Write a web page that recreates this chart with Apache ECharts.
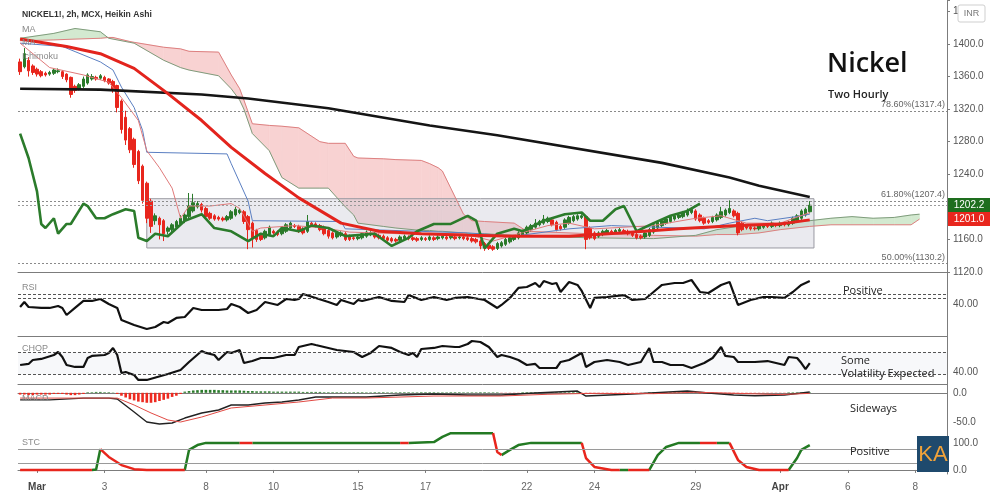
<!DOCTYPE html>
<html><head><meta charset="utf-8">
<script src="https://cdn.jsdelivr.net/npm/echarts/dist/echarts.min.js"></script>
<style>html,body{margin:0;padding:0;background:#fff}#c{width:992px;height:494px}</style>
</head><body><div id="c"></div>
<script>
const FONT = "'Liberation Sans', Arial, sans-serif";
const OS = "'Open Sans', 'Liberation Sans', sans-serif";
const tickIdx = [4,20,44,60,80,96,120,136,160,180,196,212];
const tickText = ['Mar','3','8','10','15','17','22','24','29','Apr','6','8'];
const barCount = 220;
// Heikin Ashi candles [open, close, low, high]
const candles = [
[1378,1366,1362,1382],[1372,1388,1370,1395],[1380,1367,1360,1384],[1373,1365,1362,1375],[1369,1363,1360,1371],
[1366,1361,1359,1368],[1364,1362,1360,1366],[1363,1365,1361,1367],[1364,1368,1362,1370],[1366,1367,1364,1370],
[1366,1360,1357,1368],[1363,1356,1353,1364],[1359,1338,1334,1360],[1348,1343,1340,1350],[1345,1350,1343,1352],
[1348,1357,1346,1360],[1352,1362,1350,1364],[1357,1360,1355,1363],[1359,1357,1355,1361],[1358,1361,1356,1363],
[1359,1355,1353,1361],[1357,1352,1350,1358],[1354,1344,1340,1356],[1349,1322,1316,1350],[1330,1295,1290,1332],
[1310,1282,1276,1318],[1296,1270,1266,1298],[1283,1252,1248,1285],[1268,1232,1228,1270],[1250,1208,1204,1252],
[1229,1186,1180,1231],[1207,1176,1168,1210],[1183,1189,1178,1192],[1186,1178,1160,1188],[1183,1167,1158,1185],
[1170,1174,1166,1176],[1172,1178,1169,1180],[1175,1182,1173,1184],[1179,1186,1177,1190],[1183,1190,1180,1192],
[1188,1201,1186,1217],[1195,1205,1193,1216],[1200,1204,1198,1207],[1203,1196,1193,1205],[1198,1188,1186,1200],
[1192,1186,1184,1194],[1189,1185,1183,1191],[1187,1185,1183,1189],[1186,1184,1182,1188],[1184,1188,1182,1190],
[1186,1194,1184,1196],[1190,1197,1188,1200],[1193,1196,1191,1198],[1194,1182,1179,1196],[1188,1172,1148,1190],
[1180,1162,1150,1182],[1171,1160,1157,1173],[1165,1160,1158,1167],[1162,1170,1160,1172],[1166,1175,1164,1177],
[1170,1168,1166,1172],[1169,1166,1164,1171],[1167,1174,1165,1176],[1170,1178,1168,1180],[1174,1180,1172,1182],
[1177,1176,1174,1179],[1176,1170,1168,1178],[1173,1168,1166,1175],[1170,1182,1168,1190],[1180,1178,1176,1182],
[1179,1176,1174,1181],[1177,1172,1170,1179],[1175,1167,1165,1177],[1171,1164,1161,1173],[1168,1162,1160,1170],
[1163,1168,1161,1170],[1165,1168,1163,1170],[1167,1160,1158,1169],[1164,1160,1158,1166],[1162,1161,1159,1164],
[1161,1163,1159,1165],[1162,1167,1160,1169],[1164,1169,1162,1171],[1166,1168,1164,1170],[1167,1163,1161,1169],
[1165,1162,1160,1167],[1164,1161,1159,1166],[1162,1159,1157,1164],[1161,1158,1156,1163],[1160,1158,1156,1162],
[1159,1163,1157,1165],[1161,1164,1159,1166],[1163,1161,1159,1165],[1162,1160,1158,1164],[1161,1159,1157,1163],
[1160,1162,1158,1164],[1161,1160,1158,1163],[1160,1163,1158,1165],[1162,1160,1158,1164],[1161,1163,1159,1165],
[1162,1164,1160,1166],[1163,1161,1159,1165],[1162,1164,1160,1166],[1163,1161,1159,1165],[1162,1163,1160,1165],
[1163,1161,1159,1165],[1162,1160,1158,1164],[1161,1158,1156,1163],[1160,1157,1155,1162],[1158,1152,1148,1160],
[1155,1150,1146,1157],[1153,1149,1147,1155],[1151,1148,1146,1153],[1149,1155,1147,1157],[1152,1156,1150,1158],
[1154,1160,1152,1162],[1157,1162,1155,1164],[1160,1163,1158,1165],[1162,1168,1160,1170],[1165,1170,1163,1172],
[1168,1175,1166,1177],[1172,1177,1170,1179],[1175,1180,1173,1185],[1178,1182,1176,1184],[1180,1185,1178,1190],
[1182,1186,1180,1188],[1184,1178,1176,1186],[1181,1172,1170,1183],[1176,1173,1171,1178],[1175,1184,1173,1186],
[1180,1187,1178,1189],[1183,1188,1181,1190],[1185,1189,1183,1191],[1187,1189,1185,1191],[1188,1160,1148,1190],
[1174,1162,1160,1176],[1168,1161,1159,1170],[1164,1168,1162,1170],[1166,1170,1164,1172],[1168,1171,1166,1173],
[1170,1168,1166,1172],[1169,1171,1167,1173],[1170,1172,1168,1174],[1171,1169,1167,1173],[1170,1167,1165,1172],
[1168,1165,1163,1170],[1166,1162,1160,1168],[1164,1162,1160,1166],[1163,1168,1161,1170],[1165,1172,1163,1174],
[1169,1178,1167,1180],[1174,1181,1172,1183],[1177,1183,1175,1185],[1180,1185,1178,1187],[1182,1188,1180,1190],
[1185,1189,1183,1191],[1187,1190,1185,1192],[1188,1193,1186,1195],[1190,1196,1188,1198],[1193,1197,1191,1199],
[1195,1185,1183,1197],[1190,1183,1181,1192],[1186,1180,1178,1188],[1183,1181,1179,1185],[1182,1187,1180,1189],
[1184,1190,1182,1192],[1187,1194,1185,1200],[1190,1196,1188,1198],[1193,1198,1191,1208],[1195,1189,1187,1197],
[1192,1168,1165,1194],[1180,1172,1170,1182],[1176,1174,1172,1178],[1175,1173,1171,1177],[1174,1173,1171,1176],
[1173,1177,1171,1179],[1175,1178,1173,1180],[1177,1176,1174,1179],[1176,1180,1174,1182],[1178,1177,1175,1180],
[1177,1180,1175,1182],[1179,1178,1176,1181],[1178,1181,1176,1183],[1180,1186,1178,1188],[1183,1189,1181,1191],
[1186,1195,1184,1197],[1190,1197,1188,1199],[1194,1202,1192,1207]
];
const redMA = [[0,1406],[11,1397],[19,1388],[27,1370],[35,1339],[43,1306],[50,1273],[58,1241],[66,1211],[76,1180],[85,1170],[95,1167],[106,1165],[118,1164],[130,1164],[142,1168],[156,1173],[170,1177],[180,1179],[187,1184]];
const blackMA = [[0,1345],[19,1344],[43,1338],[54,1333],[73,1321],[97,1300],[113,1288],[152,1254],[168,1236],[175,1226],[187,1212]];
const kijun = [[0,1401],[10,1397],[19,1378],[22,1368],[24,1347],[27,1322],[29,1294],[30,1267],[49,1265],[50,1253],[54,1207],[55,1183],[76,1182],[77,1173],[106,1168],[117,1164],[130,1173],[140,1177],[162,1173],[168,1180],[174,1186],[177,1183],[185,1189],[187,1191]];
const tenkan = [[0,1401],[7,1371],[15,1362],[21,1353],[24,1334],[28,1306],[30,1269],[33,1248],[36,1223],[38,1186],[40,1201],[45,1201],[50,1204],[52,1198],[55,1170],[57,1174],[65,1177],[72,1174],[78,1169],[90,1167],[105,1167],[112,1158],[118,1167],[125,1177],[130,1180],[136,1173],[150,1177],[160,1186],[166,1189],[172,1180],[180,1180],[187,1193]];
const lagging = [[0,1290],[2,1260],[4,1219],[5,1179],[6,1174],[8,1186],[9,1167],[11,1179],[12,1179],[15,1204],[16,1201],[18,1186],[20,1186],[22,1191],[25,1197],[27,1195],[28,1162],[30,1158],[32,1167],[35,1164],[39,1183],[43,1191],[46,1174],[50,1170],[54,1158],[57,1167],[60,1164],[62,1174],[66,1170],[69,1177],[73,1174],[77,1164],[84,1167],[88,1152],[92,1162],[94,1170],[98,1179],[102,1179],[106,1189],[108,1183],[110,1149],[113,1167],[117,1173],[119,1170],[124,1183],[129,1191],[133,1193],[135,1183],[138,1183],[141,1197],[143,1201],[146,1170],[150,1180],[154,1189],[158,1195],[161,1204]];
const cloudIdx = [0,8,13,19,21,22,26,27,34,38,40,47,50,52,53,55,59,62,66,71,73,77,79,80,86,89,95,97,99,100,105,107,110,117,120,135,150,160,165,170,175,180,187,192,197,202,207,211,213];
const spanA = [1407,1413,1419,1415,1407,1406,1402,1401,1380,1371,1368,1361,1345,1331,1320,1290,1269,1236,1223,1223,1223,1200,1190,1180,1176,1174,1171,1171,1170,1170,1168,1167,1167,1165,1164,1162,1161,1165,1172,1176,1177,1180,1183,1186,1188,1186,1187,1190,1191];
const spanB = [1404,1405,1406,1407,1408,1408,1403,1402,1396,1394,1391,1390,1362,1345,1331,1302,1300,1299,1297,1280,1278,1278,1262,1260,1259,1258,1257,1253,1248,1244,1191,1183,1182,1180,1170,1167,1165,1164,1166,1166,1168,1172,1176,1178,1178,1178,1178,1178,1185];
const fibLevels = [1317.4, 1207.4, 1130.2];
const fibText = ['78.60%(1317.4)', '61.80%(1207.4)', '50.00%(1130.2)'];
const rangeBox = {from: 30, to: 188, low: 1149.5, high: 1210};
const lastPrice = 1202.2, lastMA = 1201.0;
const rsi = [[0,36.8],[1,43.2],[2,36.8],[5,35.6],[7,35.6],[9,38.1],[10,35.6],[11,26.7],[13,35.6],[15,44.5],[17,44.5],[19,47],[21,40.6],[23,35.6],[24,20.3],[27,14],[30,8.9],[32,11.4],[34,17.8],[35,16.5],[37,22.9],[39,24.1],[41,35.6],[43,33],[47,33],[49,34.3],[50,40.6],[52,36.8],[54,29.2],[56,33],[58,43.2],[61,39.4],[63,47],[65,45.7],[66,47],[67,53.3],[70,48.3],[73,43.2],[75,39.4],[76,45.7],[79,40.6],[80,45.7],[81,44.5],[85,49.5],[88,44.5],[91,43.2],[92,52],[95,45.7],[98,49.5],[101,45.7],[103,48.3],[106,49.5],[110,45.7],[113,35.6],[114,39.4],[116,48.3],[118,61],[120,62.2],[122,67.3],[123,62.2],[124,69.8],[126,66],[127,67.3],[128,55.9],[130,68.6],[132,64.8],[133,57.2],[135,35.6],[136,48.3],[139,49.5],[143,52],[145,45.7],[148,47],[150,55.9],[152,64.8],[155,67.3],[157,67.3],[159,71.1],[161,55.9],[163,54.6],[166,64.8],[168,68.6],[170,39.4],[173,45.7],[176,49.5],[178,49.5],[181,48.3],[183,55.9],[185,64.8],[187,69.8]];
const rsiBands = [53, 48];
const chop = [[0,48.2],[2,49.3],[3,53.5],[5,54.6],[8,58.8],[9,62],[10,56.7],[11,48.2],[13,46.1],[15,46.1],[16,55.6],[17,57.8],[20,58.8],[21,61],[22,66.3],[23,58.8],[24,39.7],[25,40.8],[27,37.6],[28,32.3],[30,32.3],[35,38.6],[38,42.9],[40,51.4],[43,63.1],[44,61],[46,58.8],[47,53.5],[49,62],[50,61],[52,64.1],[53,50.3],[55,52.4],[57,55.6],[60,55.6],[63,58.8],[65,58.8],[66,67.3],[69,70.5],[70,69.4],[75,64.1],[79,62],[81,56.7],[83,61],[85,68.4],[88,66.3],[90,62],[92,58.8],[93,61],[94,56.7],[95,65.2],[98,66.3],[100,68.4],[103,67.3],[104,67.3],[106,70.5],[107,73.7],[109,72.6],[111,67.3],[113,56.7],[114,58.8],[116,56.7],[118,53.5],[120,48.2],[122,49.3],[123,45],[126,45],[127,45],[128,51.4],[130,53.5],[133,61],[134,46.1],[136,51.4],[139,53.5],[142,51.4],[144,48.2],[147,51.4],[149,66.3],[150,51.4],[152,51.4],[154,48.2],[157,48.2],[159,45],[162,50.3],[164,55.6],[166,67.3],[167,57.8],[169,56.7],[170,51.4],[174,51.4],[177,52.4],[179,50.3],[181,48.2],[182,56.7],[184,55.6],[185,50.3],[186,43.9],[187,50.3]];
const chopBands = [61.8, 38.2];
const macd = [[0,-12],[7,-12],[15,-9],[21,-9],[23,-10.6],[27,-32.7],[30,-49.8],[33,-53.2],[36,-51.5],[39,-43],[43,-34.4],[47,-29.3],[50,-20.8],[54,-20.8],[58,-17.4],[62,-15.7],[66,-12.3],[70,-7.2],[82,-7.2],[90,-3.8],[98,-2.1],[106,-3.8],[114,-3.8],[122,-0.4],[132,3],[134,-5.5],[145,-2],[158,3],[163,-0.4],[169,-3.8],[174,-5],[181,-3.8],[187,1.3]];
const signal = [[0,-9],[23,-9],[27,-20.8],[31,-34.4],[35,-46.4],[38,-49.8],[43,-41.3],[50,-25.9],[58,-20.8],[66,-15.7],[74,-8.9],[82,-8.9],[98,-5.5],[114,-5.5],[125,-2.5],[135,-1],[150,-1.5],[160,1],[170,-1],[180,-3],[187,-1]];
const hist = [-3,-3,-4,-4,-3,-3,-3,-3,-2,-2,-2,-3,-4,-4,-3,-2,
1,1,1.5,1.5,1,1,0.5,
-2,-5,-8,-11,-13,-15,-16,-17,-17,-16,-14,-12,-10,-7,-5,-2,
2,3,4,4.5,5,5,5,5,4.5,4.5,4,4,4,4,3.5,
3,3,2.5,2.5,2.5,2.5,2,2,2,2,2,2,2,1.5,1.5,1.5,1.5,1.5,1,1,1,
1,1,0.8,0.8,1,1,1,0.8,0.8,1,1,1,0.8,0.8,0.8,1,1,1,0.8,0.8,1,1,1,1,0.8,0.8,0.8,1,1,1,0.8,0.8,0.8,0.8,1,1,0.8,0.8,0.8,
-0.5,-0.5,-0.5,-0.5,-0.5,
1,1,1,1,1,1,1,1,1,1,1,1,1,1,
-1.5,-2,-1.5,-1,
-0.5,-0.5,-0.5,-0.5,-0.5,-0.5,-0.5,-0.5,-0.5,-0.5,-0.5,-0.5,
1,1,1,1,1,1,1,1,1,1,1,1,
-1,-1,-1,-1,-1,-1,-1,-1,-1,-1,-1,-1,
-0.5,-0.5,-0.5,-0.5,-0.5,-0.5,-0.5,-0.5,-0.5,
0.8,0.8,0.8,0.8,0.8,0.8];
const stcGreen = [[[17,0],[18,2],[19,77]],[[39,0],[40,74],[42,92],[44,100],[52,100]],[[55,100],[90,100]],[[92,100],[98,103],[100,122],[102,136],[112,136]],[[114,55],[116,74],[118,92],[121,100],[133,100]],[[142,0],[144,0]],[[149,0],[151,55],[153,85],[156,100],[161,100]],[[165,100],[168,100]],[[182,0],[184,44],[185,74],[187,92]]];
const stcRed = [[[0,0],[17,0]],[[19,77],[21,48],[24,18],[27,3],[30,0],[39,0]],[[52,100],[55,100]],[[90,100],[92,100]],[[112,136],[113,66],[114,55]],[[133,100],[134,44],[136,11],[140,0],[142,0]],[[144,0],[149,0]],[[161,100],[165,100]],[[168,100],[170,37],[172,11],[175,0],[182,0]]];
const stcBands = [75, 25];

const UP = '#2a7a2a', DOWN = '#e8261d';
const cats = Array.from({length: barCount}, (_, i) => String(i));
const tickFn = (i) => tickIdx.indexOf(i) >= 0;
const labelFn = (v) => { const k = tickIdx.indexOf(Number(v)); if (k < 0) return ''; const t = tickText[k]; return isNaN(Number(t)) ? '{b|' + t + '}' : t; };
function flat(segs) { const out = []; segs.forEach((s) => { s.forEach(p => out.push(p)); out.push([s[s.length-1][0], '-']); }); return out; }

const el = document.getElementById('c');
const chart = echarts.init(el, null, {renderer: 'canvas'});
const GL = 18, GR = 45;
const grids = [
  {left: GL, right: GR, top: 0, height: 272},
  {left: GL, right: GR, top: 273, height: 63},
  {left: GL, right: GR, top: 336, height: 48},
  {left: GL, right: GR, top: 384, height: 44},
  {left: GL, right: GR, top: 428, height: 46}
];
const xAxes = [0,1,2,3,4].map(g => ({
  type: 'category', gridIndex: g, data: cats, boundaryGap: true,
  axisLine: {show: true, lineStyle: {color: '#7c7c7c', width: 1}},
  axisTick: g === 4 ? {show: true, alignWithLabel: true, interval: tickFn, length: 3, lineStyle: {color: '#7c7c7c'}} : {show: false},
  axisLabel: g === 4 ? {show: true, interval: tickFn, formatter: labelFn, color: '#666', fontSize: 10, margin: 8, fontFamily: FONT,
    rich: {b: {fontWeight: 'bold', color: '#444', fontSize: 10, fontFamily: FONT}}} : {show: false},
  splitLine: {show: false}
}));
function yAx(g, min, max, interval, fmt, ticks) {
  return {type: 'value', gridIndex: g, position: 'right', min: min, max: max, interval: interval,
    axisLine: {show: true, lineStyle: {color: '#7c7c7c'}},
    axisTick: {show: ticks, length: 3, lineStyle: {color: '#7c7c7c'}},
    axisLabel: {color: '#555', fontSize: 10, fontFamily: FONT, margin: 6, formatter: fmt},
    splitLine: {show: false}};
}
const yAxes = [
  yAx(0, 1120, 1454, 40, v => (Math.abs(v % 40) < 1e-6 && v !== 1200) ? v.toFixed(1) : '', true),
  yAx(1, 0, 80, 40, v => v === 40 ? '40.00' : '', false),
  yAx(2, 28, 79, 12, v => v === 40 ? '40.00' : '', false),
  yAx(3, -60, 15, 10, v => v === 0 ? '0.0' : (v === -50 ? '-50.0' : ''), false),
  yAx(4, -15, 155, 5, v => v === 0 ? '0.0' : (v === 100 ? '100.0' : ''), false)
];

function cloudItem(params, api) {
  const k = params.dataIndex;
  const i0 = cloudIdx[k], i1 = cloudIdx[k + 1];
  const a0 = api.coord([i0, spanA[k]]), a1 = api.coord([i1, spanA[k + 1]]);
  const b0 = api.coord([i0, spanB[k]]), b1 = api.coord([i1, spanB[k + 1]]);
  const d0 = spanA[k] - spanB[k], d1 = spanA[k + 1] - spanB[k + 1];
  const col = d => d >= 0 ? '#d3e9d0' : '#f8d2d2';
  if (d0 * d1 < 0) {
    const t = d0 / (d0 - d1);
    const p = [a0[0] + (a1[0] - a0[0]) * t, a0[1] + (a1[1] - a0[1]) * t];
    return {type: 'group', children: [
      {type: 'polygon', shape: {points: [a0, p, b0]}, style: {fill: col(d0), stroke: col(d0), lineWidth: 0.6}},
      {type: 'polygon', shape: {points: [p, a1, b1]}, style: {fill: col(d1), stroke: col(d1), lineWidth: 0.6}}]};
  }
  const c = col(d0 + d1);
  return {type: 'polygon', shape: {points: [a0, a1, b1, b0]}, style: {fill: c, stroke: c, lineWidth: 0.6}};
}
const thin = (c, w) => ({color: c, width: w});
const lineS = (name, data, xi, color, width, z, extra) => Object.assign({
  type: 'line', name: name, data: data, xAxisIndex: xi, yAxisIndex: xi, showSymbol: false, symbol: 'none',
  lineStyle: thin(color, width), itemStyle: {color: color}, z: z, silent: true, animation: false, connectNulls: false
}, extra || {});
const dotted = (vals, color, type) => ({silent: true, symbol: ['none', 'none'], label: {show: false},
  lineStyle: {color: color, type: type, width: 1}, data: vals.map(v => ({yAxis: v}))});

const series = [
  {type: 'custom', name: 'cloud', xAxisIndex: 0, yAxisIndex: 0, z: 0, silent: true,
    renderItem: cloudItem, data: cloudIdx.slice(1).map((_, k) => k)},
  lineS('spanB', cloudIdx.map((x, k) => [x, spanB[k]]), 0, '#dd8080', 1, 1),
  lineS('spanA', cloudIdx.map((x, k) => [x, spanA[k]]), 0, '#7f9c7c', 1, 1, {
    markArea: {silent: true, itemStyle: {color: 'rgba(200,200,212,0.38)', borderColor: '#9a9aa2', borderWidth: 1},
      data: [[{xAxis: rangeBox.from, yAxis: rangeBox.low}, {xAxis: rangeBox.to, yAxis: rangeBox.high}]]}
  }),
  {type: 'candlestick', name: 'HA', data: candles, xAxisIndex: 0, yAxisIndex: 0, barWidth: 3, z: 3, silent: true,
    itemStyle: {color: UP, color0: DOWN, borderColor: UP, borderColor0: DOWN, borderWidth: 1},
    markLine: {silent: true, symbol: ['none', 'none'], lineStyle: {color: '#8a8a8a', type: [2, 2], width: 1},
      data: fibLevels.map((v, k) => ({yAxis: v, label: {show: true, position: 'insideEndTop', formatter: fibText[k],
        color: '#666', fontSize: 9, fontFamily: FONT, distance: 2}})).concat([{yAxis: lastPrice, label: {show: false}, lineStyle: {color: '#9a9a9a'}}])}
  },
  lineS('kijun', kijun, 0, '#5b7fc2', 1, 4),
  lineS('tenkan', tenkan, 0, '#e07a7a', 1, 4),
  lineS('lagging', lagging, 0, '#2b7b2b', 2.6, 5),
  lineS('MA2', blackMA, 0, '#151515', 2.6, 6),
  lineS('MA1', redMA, 0, '#e3241d', 3, 7),
  lineS('RSI', rsi, 1, '#111', 2.2, 3, {markLine: dotted(rsiBands, '#555', [3, 2])}),
  lineS('CHOP', chop, 2, '#111', 2.2, 3, {
    markLine: dotted(chopBands, '#555', [3, 2]),
    markArea: {silent: true, itemStyle: {color: 'rgba(150,160,190,0.08)'}, data: [[{yAxis: chopBands[1]}, {yAxis: chopBands[0]}]]}
  }),
  {type: 'bar', name: 'hist', data: hist, xAxisIndex: 3, yAxisIndex: 3, barWidth: 2.6, silent: true, z: 2,
    itemStyle: {color: p => p.value >= 0 ? '#2a7a2a' : '#ee2a20'}},
  lineS('MACD', macd, 3, '#222', 1.4, 4),
  lineS('Signal', signal, 3, '#e24a44', 1, 4),
  lineS('STCg', flat(stcGreen), 4, '#237a23', 2.5, 4, {markLine: dotted(stcBands, '#9a9a9a', 'solid')}),
  lineS('STCr', flat(stcRed), 4, '#e8261d', 2.5, 4)
];

chart.setOption({animation: false, backgroundColor: '#fff', grid: grids, xAxis: xAxes, yAxis: yAxes, series: series});

const yG = chart.convertToPixel({yAxisIndex: 0}, lastPrice);
const txt = (t, x, y, font, fill, align) => ({type: 'text', silent: true, z: 100,
  style: {text: t, x: x, y: y, font: font, fill: fill, textAlign: align || 'left', textVerticalAlign: 'middle'}});
const graphics = [
  txt('NICKEL1!, 2h, MCX, Heikin Ashi', 22, 15, "bold 8.6px " + FONT, '#333'),
  txt('MA', 22, 30, "9px " + FONT, '#8a8a8a'),
  txt('MA', 22, 43, "9px " + FONT, '#8a8a8a'),
  txt('Ichimoku', 22, 57, "9px " + FONT, '#8a8a8a'),
  txt('RSI', 22, 288, "9px " + FONT, '#8a8a8a'),
  txt('CHOP', 22, 349, "9px " + FONT, '#8a8a8a'),
  txt('MACD', 22, 399, "9px " + FONT, '#8a8a8a'),
  txt('STC', 22, 443, "9px " + FONT, '#8a8a8a'),
  txt('Nickel', 827, 64, "600 27px " + OS, '#111'),
  txt('Two Hourly', 828, 95, "600 11px " + OS, '#222'),
  txt('Positive', 843, 291, "11px " + OS, '#222'),
  txt('Some', 841, 361, "11px " + OS, '#222'),
  txt('Volatility Expected', 841, 374, "11px " + OS, '#222'),
  txt('Sideways', 850, 409, "11px " + OS, '#222'),
  txt('Positive', 850, 452, "11px " + OS, '#222'),
  {type: 'rect', z: 99, silent: true, shape: {x: 917, y: 436, width: 32, height: 36}, style: {fill: '#1f4a6d'}},
  txt('KA', 933, 454.5, "22px " + FONT, '#f0a23a', 'center'),
  {type: 'rect', z: 99, silent: true, shape: {x: 958, y: 5, width: 27, height: 17, r: 2}, style: {fill: '#fff', stroke: '#cfcfcf', lineWidth: 1}},
  txt('INR', 971.5, 14, "9px " + FONT, '#777', 'center'),
  {type: 'rect', z: 99, silent: true, shape: {x: 948, y: yG - 7, width: 42, height: 14}, style: {fill: '#1e6e1e'}},
  txt(lastPrice.toFixed(1), 969, yG, "10px " + FONT, '#fff', 'center'),
  {type: 'rect', z: 99, silent: true, shape: {x: 948, y: yG + 7, width: 42, height: 14}, style: {fill: '#e8261d'}},
  txt(lastMA.toFixed(1), 969, yG + 14, "10px " + FONT, '#fff', 'center')
];
chart.setOption({graphic: graphics});
</script>
</body></html>
